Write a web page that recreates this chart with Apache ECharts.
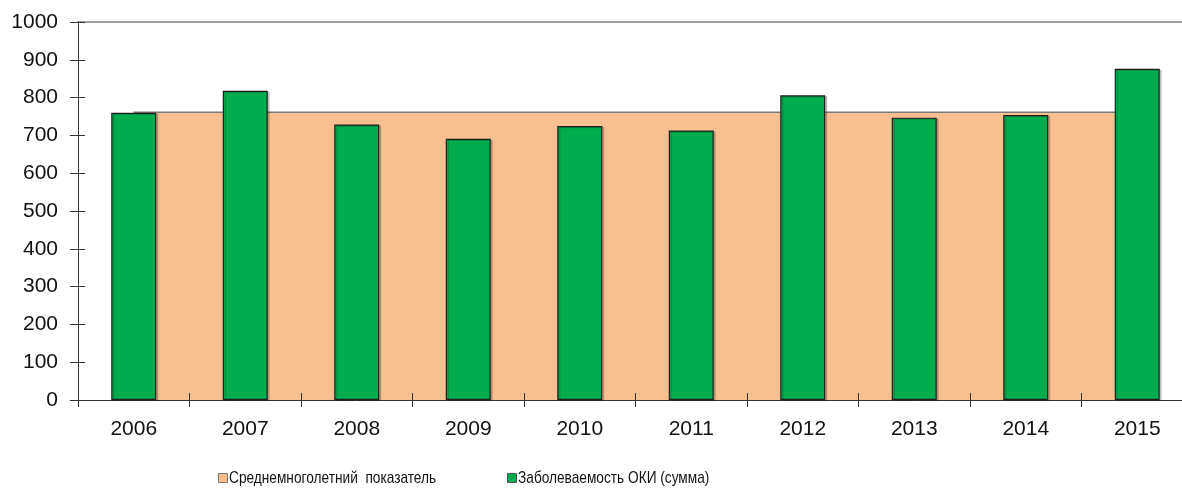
<!DOCTYPE html>
<html>
<head>
<meta charset="utf-8">
<script src="https://cdn.jsdelivr.net/npm/echarts@6/dist/echarts.min.js"></script>
<style>
  html, body { margin: 0; padding: 0; background: #ffffff; overflow: hidden; }
  #chart { width: 1200px; height: 490px; }
</style>
</head>
<body>
<div id="chart"></div>
<script>
// Years on the category axis
const years = ['2006', '2007', '2008', '2009', '2010', '2011', '2012', '2013', '2014', '2015'];
// Annual incidence of acute intestinal infections (total)
const incidence = [760, 818, 729, 691, 725, 713, 806, 747, 754, 876];
// Long-term average level, same for every year
const longTermAverage = [761, 761, 761, 761, 761, 761, 761, 761, 761, 761];
// Value axis ticks
const yMin = 0, yMax = 1000, yStep = 100;

const seriesNames = ['Среднемноголетний  показатель', 'Заболеваемость ОКИ (сумма)'];

const labelFont = { fontFamily: 'Liberation Sans, Arial, sans-serif', fontSize: 21, color: '#111' };
const legendFont = '17px "Liberation Sans", Arial, sans-serif';
const orange = '#f8c090';
const green = '#00ac4e';
const tickColor = '#333';

// legend swatch only; its caption is drawn narrow alongside
function legendSwatch(name, left, color, border) {
  return {
    left: left,
    top: 473,
    itemWidth: 9,
    itemHeight: 9,
    padding: 0,
    formatter: function () { return ''; },
    textStyle: { fontSize: 9, padding: 0 },
    data: [{ name: name, icon: 'rect', itemStyle: { color: color, borderColor: border, borderWidth: 1 } }]
  };
}

function legendCaption(text, x) {
  return {
    type: 'text',
    x: x,
    y: 478,
    scaleX: 0.805,
    silent: true,
    style: {
      text: text,
      font: legendFont,
      fill: '#111',
      align: 'left',
      verticalAlign: 'middle',
      textAlign: 'left',
      textVerticalAlign: 'middle'
    }
  };
}

const chart = echarts.init(document.getElementById('chart'), null, { renderer: 'canvas' });

chart.setOption({
  animation: false,
  backgroundColor: '#ffffff',
  grid: { left: 78, top: 22, width: 1115, height: 378, containLabel: false },
  legend: [
    legendSwatch(seriesNames[0], 218, orange, '#777'),
    legendSwatch(seriesNames[1], 507, green, '#555')
  ],
  graphic: [
    legendCaption(seriesNames[0], 229),
    legendCaption(seriesNames[1], 518)
  ],
  xAxis: [
    {
      type: 'category',
      data: years,
      position: 'bottom',
      axisLine: { lineStyle: { color: '#333', width: 1 } },
      axisTick: { show: true, length: 7, lineStyle: { color: tickColor } },
      axisLabel: Object.assign({ margin: 19 }, labelFont)
    },
    {
      // tick marks drawn a second time, shifted up so they straddle the axis line
      type: 'category',
      data: years,
      position: 'bottom',
      offset: -7,
      z: 10,
      axisLine: { show: false },
      axisTick: { show: true, length: 7, lineStyle: { color: tickColor, width: 1 } },
      axisLabel: { show: false }
    },
    {
      // upper border of the plot area
      type: 'category',
      data: years,
      position: 'top',
      axisLine: { lineStyle: { color: '#a0a0a0', width: 2 } },
      axisTick: { show: false },
      axisLabel: { show: false }
    }
  ],
  yAxis: [
    {
      type: 'value',
      min: yMin,
      max: yMax,
      interval: yStep,
      z: 10,
      axisLine: { show: true, lineStyle: { color: '#333', width: 1 } },
      axisTick: { show: true, length: 8, lineStyle: { color: tickColor } },
      splitLine: { show: false },
      axisLabel: Object.assign({ margin: 20, formatter: function (v) { return String(v); } }, labelFont)
    },
    {
      // tick marks drawn a second time, shifted right so they straddle the axis line
      type: 'value',
      min: yMin,
      max: yMax,
      interval: yStep,
      position: 'left',
      offset: -7,
      z: 10,
      axisLine: { show: false },
      axisTick: { show: true, length: 7, lineStyle: { color: tickColor, width: 1 } },
      splitLine: { show: false },
      axisLabel: { show: false }
    }
  ],
  series: [
    {
      name: seriesNames[0],
      type: 'line',
      data: longTermAverage,
      xAxisIndex: 0,
      yAxisIndex: 0,
      symbol: 'none',
      z: 1,
      lineStyle: { color: '#7a7a7a', width: 1.5 },
      itemStyle: { color: orange },
      areaStyle: { color: orange, opacity: 1 }
    },
    {
      name: seriesNames[1],
      type: 'bar',
      data: incidence,
      xAxisIndex: 0,
      yAxisIndex: 0,
      barWidth: 45,
      z: 3,
      itemStyle: {
        color: green,
        borderColor: '#1e1e1e',
        borderWidth: 1.2,
        shadowColor: 'rgba(0,0,0,0.18)',
        shadowOffsetX: 2,
        shadowOffsetY: 1
      }
    }
  ]
});
</script>
</body>
</html>
